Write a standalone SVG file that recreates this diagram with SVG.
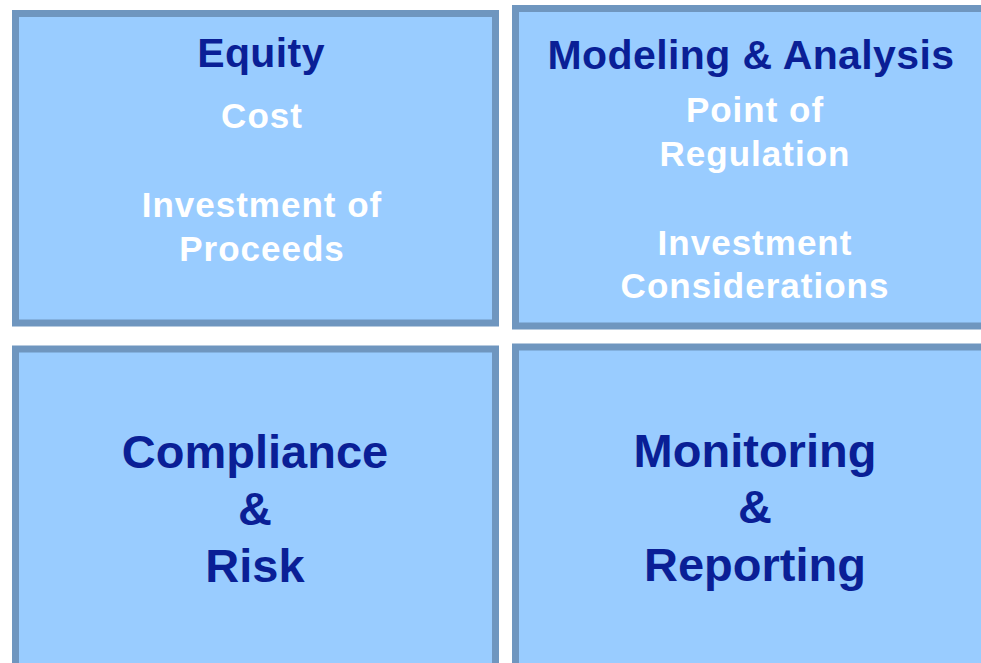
<svg xmlns="http://www.w3.org/2000/svg" width="981" height="663" viewBox="0 0 981 663">
<style>
.box{fill:#99CCFF;stroke:#6F96BF;stroke-width:7}
.t{font-family:"Liberation Sans",Arial,sans-serif;font-weight:bold;text-anchor:middle}
.h{fill:#0A1F96;font-size:41px;letter-spacing:0.4px}
.w{fill:#FFFFFF;font-size:35px;letter-spacing:1px}
.b{fill:#0A1F96;font-size:47px}
</style>
<rect width="981" height="663" fill="#FFFFFF"/>
<g id="equity">
<rect class="box" x="15.5" y="13.5" width="480" height="309.5"/>
<text class="t h" x="261" y="67">Equity</text>
<text class="t w" x="262" y="128">Cost</text>
<text class="t w" x="262" y="217">Investment of</text>
<text class="t w" x="262" y="261">Proceeds</text>
</g>
<g id="modeling">
<rect class="box" x="515.5" y="8.5" width="480" height="317.5"/>
<text class="t h" x="751" y="69">Modeling &amp; Analysis</text>
<text class="t w" x="755" y="122">Point of</text>
<text class="t w" x="755" y="166">Regulation</text>
<text class="t w" x="755" y="255">Investment</text>
<text class="t w" x="755" y="298">Considerations</text>
</g>
<g id="compliance">
<rect class="box" x="15.5" y="349" width="480" height="330"/>
<text class="t b" x="255" y="468">Compliance</text>
<text class="t b" x="255" y="525">&amp;</text>
<text class="t b" x="255" y="582">Risk</text>
</g>
<g id="monitoring">
<rect class="box" x="515.5" y="347" width="480" height="330"/>
<text class="t b" x="755" y="467">Monitoring</text>
<text class="t b" x="755" y="523">&amp;</text>
<text class="t b" x="755" y="581">Reporting</text>
</g>
<g id="connectors"></g>
</svg>
